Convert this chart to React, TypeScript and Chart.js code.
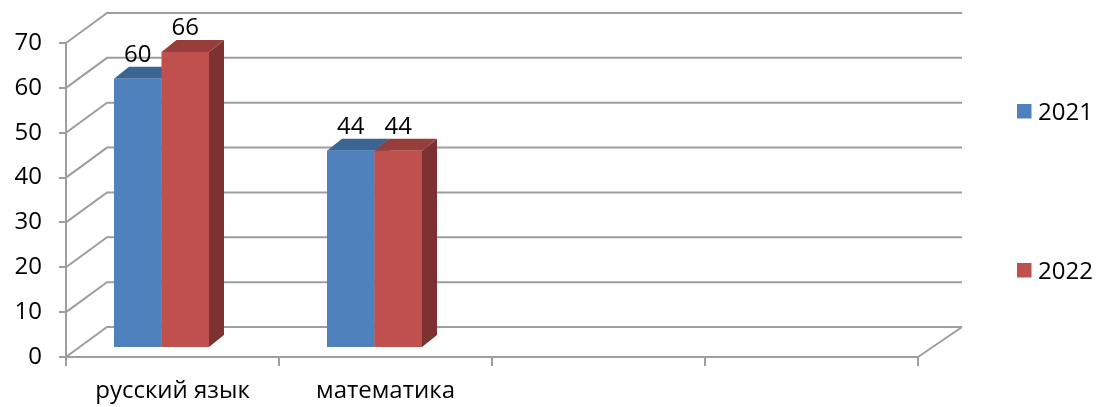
import { useEffect, useRef } from 'react';
import { Chart, registerables } from 'chart.js';

Chart.register(...registerables);

const categories = ['русский язык', 'математика', '', ''];
const seriesNames = ['2021', '2022'];
const values2021 = [60, 44, null, null];
const values2022 = [66, 44, null, null];
const yMin = 0;
const yMax = 70;
const yStep = 10;

const FONT = "'Open Sans', sans-serif";
const FONT_SIZE = 24;
const frontColors = ['#4F81BD', '#C0504D'];
const topColors = ['#3D6592', '#963E3C'];
const sideColors = ['#2F4F75', '#7D3130'];
const gridColor = '#9E9E9E';

const WALL_DX_L = 41;
const WALL_DX_R = 44;
const WALL_DY = -30;
const FACE_DX = -11;
const FACE_DY = -9;
const BAR_DX = 15;
const BAR_DY = -12;

const threeD = {
  id: 'threeD',
  beforeDatasetsDraw(chart: any) {
    const { ctx, chartArea: a, scales } = chart;
    const y = scales.y;
    ctx.save();
    ctx.strokeStyle = gridColor;
    ctx.lineWidth = 2;
    y.ticks.forEach((t: any) => {
      const py = y.getPixelForValue(t.value);
      ctx.beginPath();
      ctx.moveTo(a.left, py);
      ctx.lineTo(a.left + WALL_DX_L, py + WALL_DY);
      ctx.lineTo(a.right + WALL_DX_R, py + WALL_DY);
      ctx.stroke();
    });
    const py0 = y.getPixelForValue(yMin);
    ctx.beginPath();
    ctx.moveTo(a.right, py0);
    ctx.lineTo(a.right + WALL_DX_R, py0 + WALL_DY);
    ctx.stroke();
    ctx.restore();
  },
  afterDatasetsDraw(chart: any) {
    const { ctx } = chart;
    ctx.save();
    const n = chart.data.labels.length;
    for (let i = 0; i < n; i++) {
      chart.data.datasets.forEach((ds: any, d: number) => {
        const v = ds.data[i];
        if (v === null || v === undefined) return;
        const el = chart.getDatasetMeta(d).data[i];
        const p = el.getProps(['x', 'y', 'base', 'width'], true);
        const x0 = p.x - p.width / 2 + FACE_DX;
        const x1 = p.x + p.width / 2 + FACE_DX;
        const yt = p.y + FACE_DY;
        const yb = p.base + FACE_DY;
        ctx.fillStyle = sideColors[d];
        ctx.beginPath();
        ctx.moveTo(x1, yt);
        ctx.lineTo(x1 + BAR_DX, yt + BAR_DY);
        ctx.lineTo(x1 + BAR_DX, yb + BAR_DY);
        ctx.lineTo(x1, yb);
        ctx.closePath();
        ctx.fill();
        ctx.fillStyle = topColors[d];
        ctx.beginPath();
        ctx.moveTo(x0, yt);
        ctx.lineTo(x1, yt);
        ctx.lineTo(x1 + BAR_DX, yt + BAR_DY);
        ctx.lineTo(x0 + BAR_DX, yt + BAR_DY);
        ctx.closePath();
        ctx.fill();
        ctx.fillStyle = frontColors[d];
        ctx.fillRect(x0, yt, x1 - x0, yb - yt);
      });
    }
    ctx.fillStyle = '#000';
    ctx.font = `${FONT_SIZE}px ${FONT}`;
    ctx.textAlign = 'center';
    ctx.textBaseline = 'alphabetic';
    chart.data.datasets.forEach((ds: any, d: number) => {
      chart.getDatasetMeta(d).data.forEach((el: any, i: number) => {
        const v = ds.data[i];
        if (v === null || v === undefined) return;
        const p = el.getProps(['x', 'y'], true);
        ctx.fillText(String(v), p.x + FACE_DX, p.y + FACE_DY - 17);
      });
    });
    ctx.restore();
  },
  afterDraw(chart: any) {
    const { ctx } = chart;
    ctx.save();
    ctx.font = `${FONT_SIZE}px ${FONT}`;
    ctx.textAlign = 'left';
    ctx.textBaseline = 'alphabetic';
    const baselines = [120, 279];
    seriesNames.forEach((name, d) => {
      const b = baselines[d];
      ctx.fillStyle = frontColors[d];
      ctx.fillRect(1017, b - 16, 14.5, 14.5);
      ctx.fillStyle = '#000';
      ctx.fillText(name, 1038, b);
    });
    ctx.restore();
  },
};

export default function App() {
  const ref = useRef<HTMLCanvasElement>(null);
  useEffect(() => {
    if (!ref.current) return;
    const chart = new Chart(ref.current, {
      type: 'bar',
      data: {
        labels: categories,
        datasets: [
          { label: seriesNames[0], data: values2021, backgroundColor: 'rgba(0,0,0,0)', borderWidth: 0 },
          { label: seriesNames[1], data: values2022, backgroundColor: 'rgba(0,0,0,0)', borderWidth: 0 },
        ],
      },
      options: {
        responsive: false,
        animation: false,
        devicePixelRatio: 1,
        layout: { padding: { top: 43, right: 179, left: 0, bottom: 0 } },
        datasets: { bar: { categoryPercentage: 0.446, barPercentage: 1 } },
        plugins: { legend: { display: false }, tooltip: { enabled: false } },
        scales: {
          x: {
            offset: true,
            grid: { offset: true, drawOnChartArea: false, drawTicks: true, tickLength: 9, color: gridColor, lineWidth: 2 },
            border: { display: true, color: gridColor, width: 2 },
            ticks: { color: '#000', font: { family: FONT, size: FONT_SIZE }, padding: 11, maxRotation: 0, autoSkip: false },
            afterFit: (s: any) => { s.height = 50; },
          },
          y: {
            min: yMin,
            max: yMax,
            ticks: { stepSize: yStep, color: '#000', font: { family: FONT, size: FONT_SIZE }, padding: 17 },
            grid: { drawOnChartArea: false, drawTicks: true, tickLength: 7, color: gridColor, lineWidth: 2 },
            border: { display: true, color: gridColor, width: 2 },
            afterFit: (s: any) => { s.width = 66; },
          },
        },
      },
      plugins: [threeD],
    } as any);
    return () => chart.destroy();
  }, []);
  return (
    <div style={{ position: 'fixed', left: 0, top: 0, width: 1097, height: 407, background: '#fff' }}>
      <canvas ref={ref} width={1097} height={407} />
    </div>
  );
}
